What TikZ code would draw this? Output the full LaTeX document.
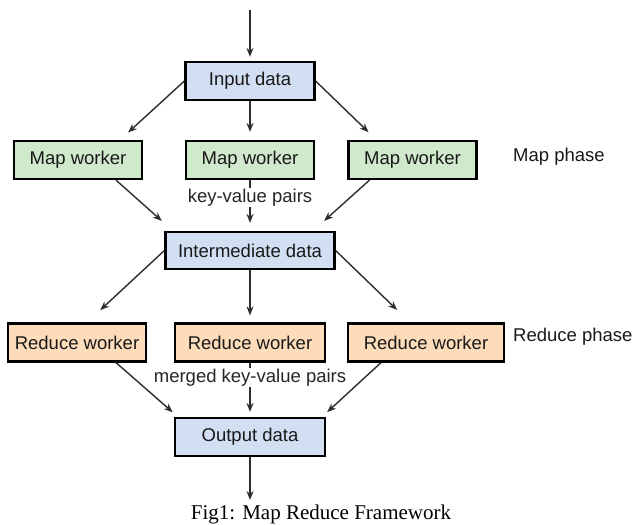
\documentclass[tikz,border=0pt]{standalone}
\usepackage{fontspec}
\setmainfont{Liberation Serif}
\setsansfont{Liberation Sans}
\usepackage{tikz}
\usetikzlibrary{arrows.meta, positioning, calc}
\usepackage{xcolor}
\definecolor{datablue}{RGB}{210,222,242}
\definecolor{mapgreen}{RGB}{208,232,204}
\definecolor{reducepeach}{RGB}{252,220,186}
\definecolor{linegray}{RGB}{45,45,45}
\newcommand{\boxfont}{\sffamily\fontsize{18.5}{22}\selectfont}

\begin{document}
\begin{tikzpicture}[x=1pt, y=-1pt,
    box/.style={draw=black, line width=2.2pt, inner sep=0pt, minimum height=38, font=\boxfont, text=black!90},
    databox/.style={box, fill=datablue},
    mapbox/.style={box, fill=mapgreen, minimum width=128},
    reducebox/.style={box, fill=reducepeach},
    flow/.style={-{Stealth[length=9pt, width=7pt]}, linegray, line width=1.4pt},
    pairs/.style={fill=white, inner sep=1pt, font=\boxfont, text=black!85}]
  \useasboundingbox (0,0) rectangle (636,524);
  % boxes
  \node[databox, minimum width=129] (in) at (250,81) {Input data};
  \node[mapbox] (map1) at (78,160) {Map worker};
  \node[mapbox] (map2) at (250,160) {Map worker};
  \node[mapbox] (map3) at (412.5,160) {Map worker};
  \node[databox, minimum width=169, minimum height=37] (mid) at (250,250.5) {Intermediate data};
  \node[reducebox, minimum width=138] (red1) at (77,342.5) {Reduce worker};
  \node[reducebox, minimum width=150] (red2) at (250,342.5) {Reduce worker};
  \node[reducebox, minimum width=156] (red3) at (426,342.5) {Reduce worker};
  \node[databox, minimum width=150] (out) at (250,437) {Output data};
  \coordinate (top) at (250,10);
  \coordinate (bottom) at (250,500);
  % phase labels
  \node[anchor=west, font=\boxfont, text=black!90, inner sep=0pt] (mapphase) at (513,157) {Map phase};
  \node[anchor=west, font=\boxfont, text=black!90, inner sep=0pt] (redphase) at (513,337) {Reduce phase};
  % input to map workers
  \draw[flow, shorten >=4pt] (top) -- (in.north);
  \draw[flow, shorten >=11pt] (in.west) -- ([xshift=42]map1.north);
  \draw[flow, shorten >=8pt] (in.south) -- (map2.north);
  \draw[flow, shorten >=11pt] (in.east) -- ([xshift=-36]map3.north);
  % map workers to intermediate data
  \draw[flow, shorten >=15pt] ([xshift=38]map1.south) -- ([xshift=-77]mid.north);
  \draw[flow, shorten >=8pt] (map2.south) -- node[pairs, pos=0.34] (kv) {key-value pairs} (mid.north);
  \draw[flow, shorten >=15pt] ([xshift=-43]map3.south) -- ([xshift=63]mid.north);
  % intermediate data to reduce workers
  \draw[flow, shorten >=18pt] (mid.west) -- ([xshift=10]red1.north);
  \draw[flow, shorten >=7pt] (mid.south) -- (red2.north);
  \draw[flow, shorten >=18pt] (mid.east) -- ([xshift=-16]red3.north);
  % reduce workers to output
  \draw[flow, shorten >=7pt] ([xshift=39]red1.south) -- ([xshift=-72]out.north);
  \draw[flow, shorten >=5pt] (red2.south) -- node[pairs, pos=0.27] (mkv) {merged key-value pairs} (out.north);
  \draw[flow, shorten >=7pt] ([xshift=-45]red3.south) -- ([xshift=72]out.north);
  \draw[flow] (out.south) -- (bottom);
  % caption
  \node[font=\fontsize{21}{24}\selectfont, inner sep=0pt] (caption) at (321,514) {Fig1: Map Reduce Framework};
\end{tikzpicture}
\end{document}
